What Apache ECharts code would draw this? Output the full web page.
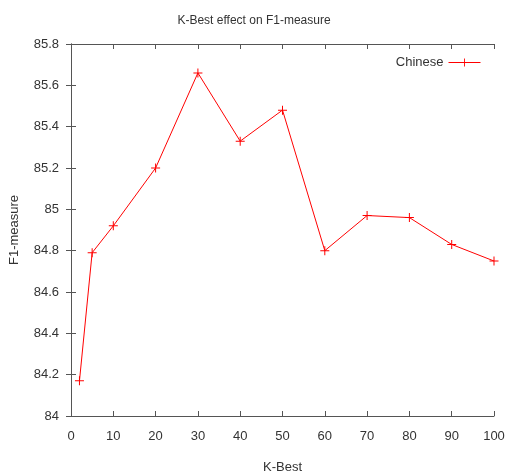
<!DOCTYPE html>
<html><head><meta charset="utf-8">
<script src="https://cdn.jsdelivr.net/npm/echarts@6/dist/echarts.min.js"></script>
<style>html,body{margin:0;padding:0;background:#fff}#c{width:508px;height:476px}</style>
</head><body><div id="c"></div>
<script>
const kValues = [2, 5, 10, 20, 30, 40, 50, 60, 70, 80, 90, 100];
const f1Chinese = [84.17, 84.79, 84.92, 85.2, 85.66, 85.33, 85.48, 84.8, 84.97, 84.96, 84.83, 84.75];
const seriesName = 'Chinese';
const titleText = 'K-Best effect on F1-measure';

const font = 'Liberation Sans, Arial, sans-serif';
const txt = '#333';
const cross = 'path://M4,0h1v4h4v1h-4v4h-1v-4h-4v-1h4z';
const chart = echarts.init(document.getElementById('c'));
const axLine = {show: true, lineStyle: {color: '#555', width: 1}};
chart.setOption({
  animation: false,
  title: {text: titleText, left: 'center', top: 10, textStyle: {fontFamily: font, fontSize: 12, fontWeight: 'normal', color: txt}},
  legend: {data: [seriesName], right: 22, top: 51, align: 'right', itemWidth: 32, itemHeight: 10, itemGap: 6,
    lineStyle: {width: 1}, textStyle: {fontFamily: font, fontSize: 13, color: txt}},
  grid: {left: 71, right: 14, top: 44, bottom: 60, containLabel: false, outerBoundsMode: 'none'},
  xAxis: [{
    type: 'value', min: 0, max: 100, interval: 10, name: 'K-Best', nameLocation: 'middle', nameGap: 45,
    nameTextStyle: {fontFamily: font, fontSize: 13, color: txt},
    axisLine: axLine, axisTick: {inside: true, length: 5, lineStyle: {color: '#555'}},
    axisLabel: {fontFamily: font, fontSize: 13, color: txt, margin: 14}, splitLine: {show: false}
  }, {
    type: 'value', position: 'top', min: 0, max: 100, interval: 10,
    axisLine: axLine, axisTick: {inside: true, length: 5, lineStyle: {color: '#555'}},
    axisLabel: {show: false}, splitLine: {show: false}
  }],
  yAxis: [{
    type: 'value', min: 84, max: 85.8, interval: 0.2, name: 'F1-measure', nameLocation: 'middle', nameGap: 50,
    nameTextStyle: {fontFamily: font, fontSize: 13, color: txt},
    axisLine: axLine, axisTick: {inside: true, length: 5, lineStyle: {color: '#555'}},
    axisLabel: {fontFamily: font, fontSize: 13, color: txt, margin: 12, formatter: v => String(+v.toFixed(1))},
    splitLine: {show: false}
  }, {
    type: 'value', position: 'right', min: 84, max: 85.8, interval: 0.2,
    axisLine: axLine, axisTick: {inside: true, length: 5, lineStyle: {color: '#555'}},
    axisLabel: {show: false}, splitLine: {show: false}
  }],
  series: [{
    name: seriesName, type: 'line', data: kValues.map((k, i) => [k, f1Chinese[i]]),
    symbol: cross, symbolSize: 9, showSymbol: true,
    lineStyle: {color: '#ff0000', width: 1}, itemStyle: {color: '#ff0000'}
  }]
});
</script></body></html>
